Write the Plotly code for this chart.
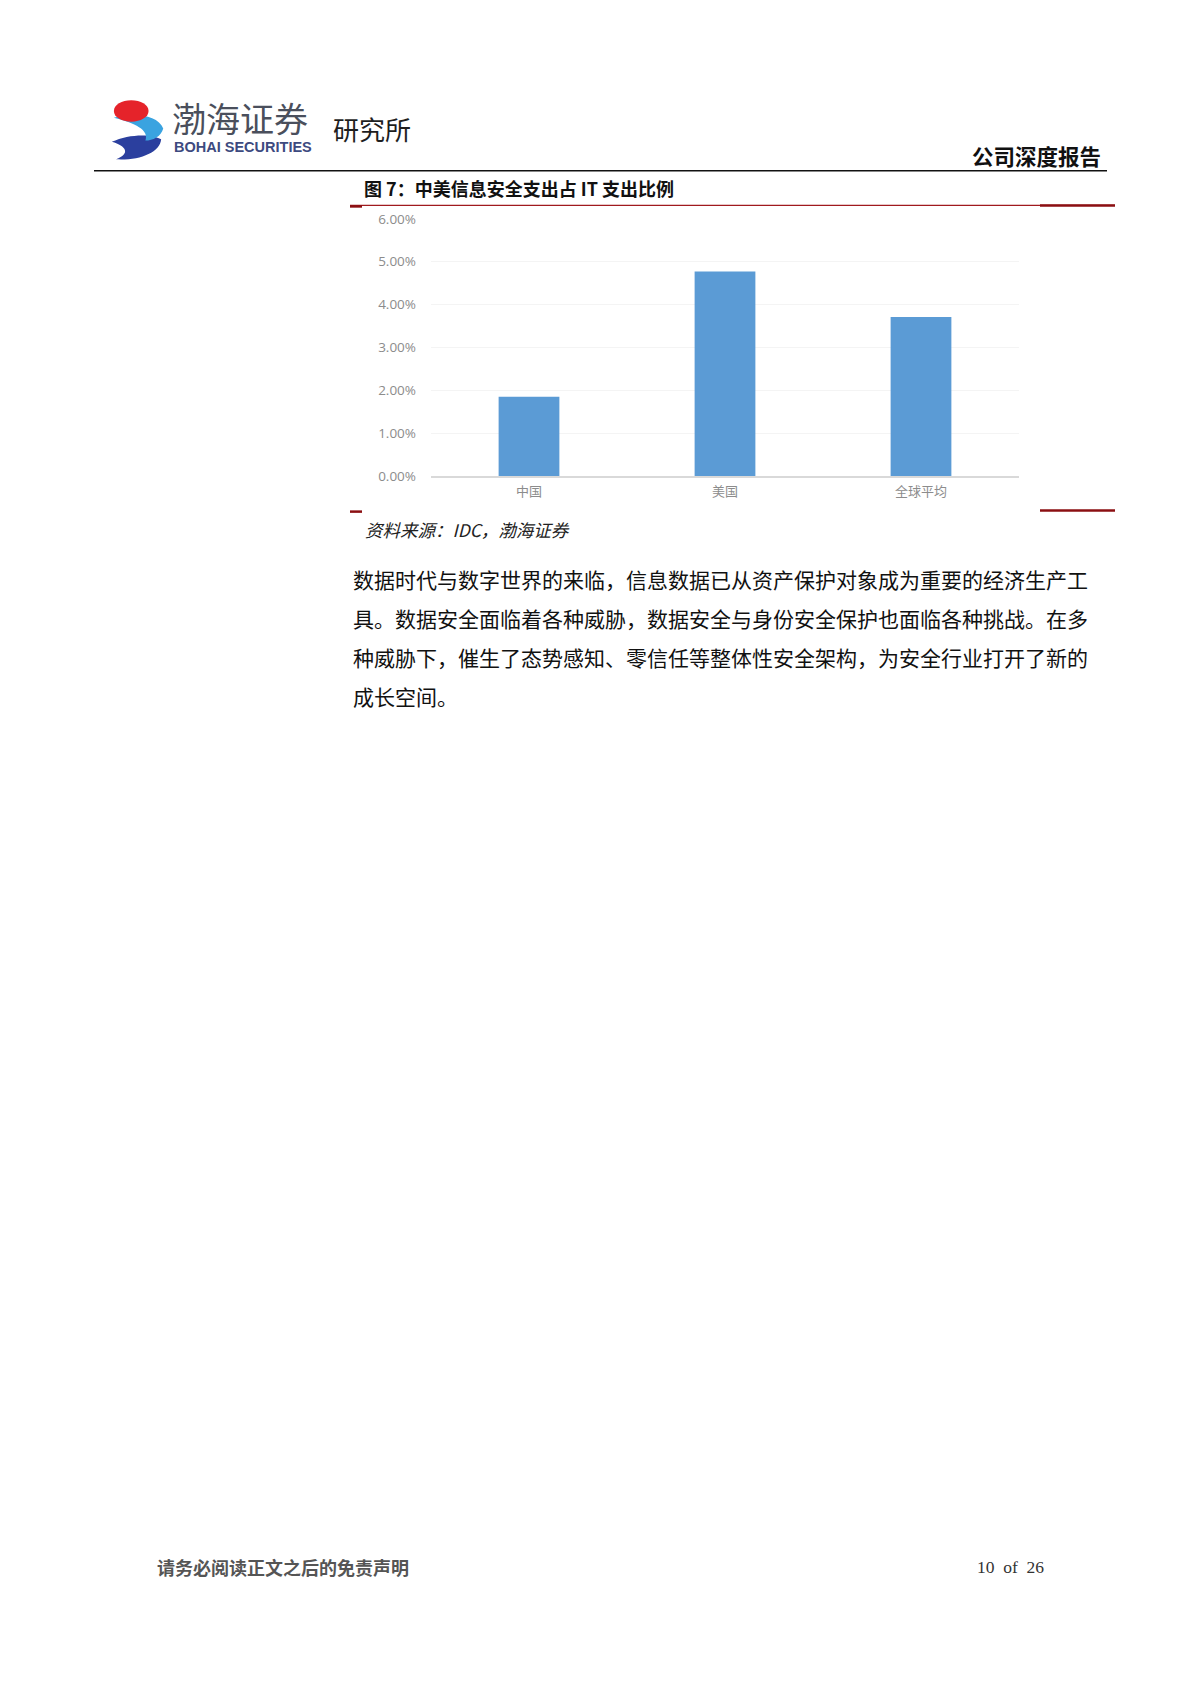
import plotly.graph_objects as go

# ---- data ----
categories = ["中国", "美国", "全球平均"]
values = [0.0185, 0.0477, 0.0371]
y_tick_vals = [0, 0.01, 0.02, 0.03, 0.04, 0.05, 0.06]
y_tick_text = ["0.00%", "1.00%", "2.00%", "3.00%", "4.00%", "5.00%", "6.00%"]

title_text = "图 7：中美信息安全支出占 IT 支出比例"
source_text = "资料来源：IDC，渤海证券"
para_lines = [
    "数据时代与数字世界的来临，信息数据已从资产保护对象成为重要的经济生产工",
    "具。数据安全面临着各种威胁，数据安全与身份安全保护也面临各种挑战。在多",
    "种威胁下，催生了态势感知、零信任等整体性安全架构，为安全行业打开了新的",
    "成长空间。",
]

# page is 1200x1698; the browser body has an 8px margin, so the figure is
# drawn 8px in from the top-left and kept small enough to fit the window.
OFF = 8
W, H = 1200 - 2 * OFF, 1670


def px(x):
    return (x - OFF) / W


def py(y):
    return 1 - (y - OFF) / H


CJK = "Noto Sans CJK SC"

fig = go.Figure()
fig.add_trace(go.Bar(
    x=categories, y=values,
    marker=dict(color="#5b9bd5", line=dict(width=0)),
    hoverinfo="x+y",
))

fig.update_layout(
    width=W, height=H, autosize=False,
    margin=dict(l=0, r=0, t=0, b=0),
    paper_bgcolor="white", plot_bgcolor="white",
    showlegend=False,
    bargap=0.69,
    xaxis=dict(
        domain=[px(431), px(1019)],
        range=[-0.5, 2.5],
        showline=True, linecolor="#d9d9d9", linewidth=1.5,
        showgrid=False, zeroline=False, ticks="",
        tickfont=dict(family=CJK, size=13, color="#8c8c8c"),
        ticklabelstandoff=3,
        fixedrange=True,
    ),
    yaxis=dict(
        domain=[py(472), py(212)],
        range=[0, 0.06],
        tickvals=y_tick_vals, ticktext=y_tick_text,
        showgrid=True, gridcolor="#f4f4f4", gridwidth=1,
        zeroline=False, showline=False, ticks="",
        tickfont=dict(family="Open Sans", size=13.5, color="#8c8c8c"),
        ticklabelstandoff=14,
        fixedrange=True,
    ),
)

shapes = []
# header black rule
shapes.append(dict(type="line", xref="paper", yref="paper",
                   x0=px(94), x1=px(1107), y0=py(163.5), y1=py(163.5),
                   line=dict(color="#111111", width=1.5)))
# red rules around figure
red = "#8b0f12"
for yy in (198.5, 507):
    if yy == 198.5:
        shapes.append(dict(type="line", xref="paper", yref="paper",
                           x0=px(350), x1=px(1115), y0=py(yy), y1=py(yy),
                           line=dict(color="#a01a1e", width=1.2)))
    shapes.append(dict(type="line", xref="paper", yref="paper",
                       x0=px(350), x1=px(362), y0=py(yy + 1), y1=py(yy + 1),
                       line=dict(color=red, width=2.5)))
    shapes.append(dict(type="line", xref="paper", yref="paper",
                       x0=px(1040), x1=px(1115), y0=py(yy), y1=py(yy),
                       line=dict(color=red, width=2.5)))


def logo_pt(x, y):
    # stretch the logo drawing to the reference size
    return (137 + (x - 138) * 1.05, 122 + (y - 117) * 1.36)


def path(pts_cmds):
    out = []
    for c in pts_cmds:
        if isinstance(c, str):
            out.append(c)
        else:
            lx, ly = logo_pt(*c)
            out.append(f"{px(lx):.5f},{py(ly):.5f}")
    return " ".join(out)


# logo: red ball, light-blue band, dark-blue band
shapes.append(dict(type="path", xref="paper", yref="paper",
                   path=path(["M", (114, 126), "C", (130, 120), (152, 120), (161, 124),
                              "C", (160, 134), (140, 140), (118, 139),
                              "C", (132, 135), (128, 129), (114, 126), "Z"]),
                   fillcolor="#2b3f9e", line=dict(width=0)))
shapes.append(dict(type="path", xref="paper", yref="paper",
                   path=path(["M", (116, 108), "C", (135, 104), (158, 106), (163, 116),
                              "C", (161, 122), (153, 125), (146, 125),
                              "C", (150, 117), (136, 112), (116, 108), "Z"]),
                   fillcolor="#3aa3e0", line=dict(width=0)))
bx0, by0 = logo_pt(116, 95)
bx1, by1 = logo_pt(149, 111)
shapes.append(dict(type="circle", xref="paper", yref="paper",
                   x0=px(bx0), x1=px(bx1), y0=py(by1), y1=py(by0),
                   fillcolor="#e5232a", line=dict(width=0)))

annotations = []


def txt(x, y, s, size, color="#000000", family=CJK, xanchor="left", **kw):
    annotations.append(dict(x=px(x), y=py(y), xref="paper", yref="paper",
                            text=s, showarrow=False, xanchor=xanchor, yanchor="middle",
                            font=dict(size=size, color=color, family=family), **kw))


# header
txt(170, 110, "渤海证券", 34, color="#4a4f5c")
txt(172, 139, "<b>BOHAI SECURITIES</b>", 14.5, color="#3d4a80", family="Liberation Sans")
txt(331, 121, "研究所", 26, color="#1e1e1e")
txt(1103, 148, "<b>公司深度报告</b>", 21.5, color="#111111", xanchor="right")

# figure title and source
txt(362, 181, "<b>" + title_text + "</b>", 18, color="#111111")
txt(363, 526, "<i>" + source_text + "</i>", 17.5, color="#222222")

# paragraph
for i, line in enumerate(para_lines):
    txt(351, 576 + i * 39.3, line, 21, color="#111111")

# footer
txt(155, 1575, "<b>请务必阅读正文之后的免责声明</b>", 18, color="#555555")
txt(975, 1575, "10  of  26", 17.5, color="#333333", family="Liberation Serif")

fig.update_layout(shapes=shapes, annotations=annotations)

fig.write_html("out.html")
